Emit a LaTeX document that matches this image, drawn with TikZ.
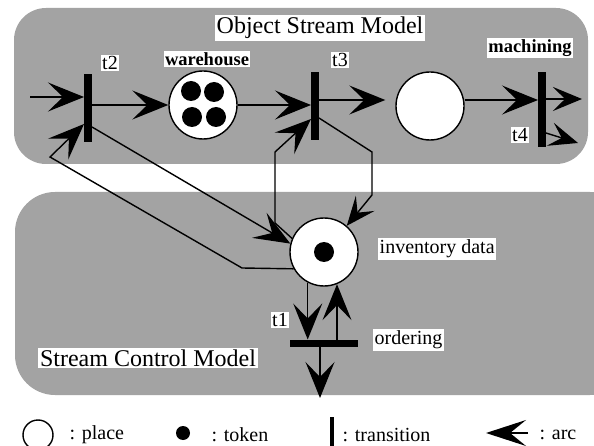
\documentclass[tikz,border=0pt]{standalone}
\usepackage{fontspec}
\setmainfont{Liberation Serif}
\usetikzlibrary{arrows.meta}
\begin{document}
\begin{tikzpicture}[x=1pt,y=-1pt,
  panel/.style={fill=black!36, draw=none},
  tbar/.style={rectangle, fill=black, draw=none, inner sep=0pt, outer sep=0pt},
  vbar/.style={tbar, minimum width=8pt, minimum height=68pt},
  place/.style={circle, draw, fill=white, line width=1.4pt, inner sep=0pt, minimum size=68pt},
  tok/.style={circle, fill=black, inner sep=0pt, minimum size=20pt},
  tag/.style={fill=white, inner sep=1.5pt, font=\fontsize{20}{22}\selectfont},
  btag/.style={fill=white, inner sep=1.5pt, font=\bfseries\fontsize{18.5}{20}\selectfont},
  title/.style={fill=white, inner sep=2pt, font=\fontsize{24}{26}\selectfont},
  arc/.style={line width=1.4pt, -{Stealth[length=36pt,width=29pt,inset=15pt]}},
  smallarc/.style={line width=1.4pt, -{Stealth[length=29pt,width=24pt,inset=12pt]}},
]
\useasboundingbox (0,0) rectangle (594,446);
\clip (0,0) rectangle (594,446);

% the two model panels
\fill[panel, rounded corners=32pt] (14,8) rectangle (588,164);
\fill[panel, rounded corners=40pt] (15,192) rectangle (630,395);

\node[title] (osm) at (320,28) {Object Stream Model};
\node[title] (scm) at (148,358) {Stream Control Model};

% transitions
\node[vbar] (t2) at (88,108) {};
\node[vbar] (t3) at (315,106) {};
\node[vbar, minimum height=75pt] (t4) at (542,110) {};
\node[tbar, minimum width=68pt, minimum height=7pt] (t1) at (324,343) {};

% places
\node[place] (wh) at (203,105) {};
\node[tok] at (191,91) {};
\node[tok] at (214,92) {};
\node[tok] at (192,117) {};
\node[tok] at (216,117) {};
\node[place] (p2) at (430,106) {};
\node[place] (inv) at (324,252) {};
\node[tok] at (inv) {};

% labels
\node[tag] at (110,63) {t2};
\node[btag] at (207,59) {warehouse};
\node[tag] at (340,60) {t3};
\node[btag] at (530,48) {machining};
\node[tag] at (520,135) {t4};
\node[tag, anchor=west] at (378,249) {inventory data};
\node[tag] at (280,320) {t1};
\node[tag, anchor=west] at (373,340) {ordering};

% object stream arcs
\coordinate (src) at (30,97);
\draw[arc] (src) -- (src -| t2.west);
\draw[arc] (t2.east |- wh.west) -- (wh.west);
\draw[arc] (wh.east) -- (wh.east -| t3.west);
\draw[arc] ([yshift=6pt]t3.east) -- ([xshift=-10pt,yshift=6pt]p2.west);
\draw[arc] ([yshift=6pt]p2.east) -- ([yshift=6pt]p2.east -| t4.west);
\coordinate (o1) at (582,99);
\coordinate (o2) at (578,143);
\draw[smallarc] (o1 -| t4.east) -- (o1);
\draw[smallarc] ([yshift=-23pt]t4.east) -- (o2);

% arcs between the two models
\coordinate (a1) at (242,268);
\coordinate (a2) at (50,157);
\coordinate (b1) at (372,152);
\coordinate (b2) at (372,195);
\coordinate (c1) at (275,223);
\coordinate (c2) at (275,152);
\draw[arc] ([yshift=-19pt]t2.east) -- (inv.166);
\draw[arc] (inv.209) -- (a1) -- (a2) -- ([yshift=-16pt]t2.west);
\draw[smallarc] ([yshift=-12pt]t3.east) -- (b1) -- (b2) -- (inv.49);
\draw[arc] (inv.157) -- (c1) -- (c2) -- ([yshift=-13pt]t3.west);

% control arcs
\coordinate (sink) at (320,398);
\draw[arc] (inv.242) -- (inv.242 |- t1.north);
\draw[arc] (inv.292 |- t1.north) -- (inv.292);
\draw[arc] (sink |- t1.south) -- (sink);

% legend
\node[circle, draw, line width=1.4pt, minimum size=30pt, inner sep=0pt] (lp) at (38,435) {};
\node[tag, fill=none, anchor=west] at (68,435) {: place};
\node[tok, minimum size=14pt] (lt) at (183,433) {};
\node[tag, fill=none, anchor=west] at (210,435) {: token};
\node[tbar, minimum width=3.5pt, minimum height=34pt] (ltr) at (332,434) {};
\node[tag, fill=none, anchor=west] at (341,435) {: transition};
\coordinate (la) at (528,433);
\draw[line width=1.4pt, -{Stealth[length=40pt,width=26pt,inset=16pt]}] (la) -- ++(-42,0) coordinate (lb);
\node[tag, fill=none, anchor=west] at (538,435) {: arc};
\end{tikzpicture}
\end{document}
